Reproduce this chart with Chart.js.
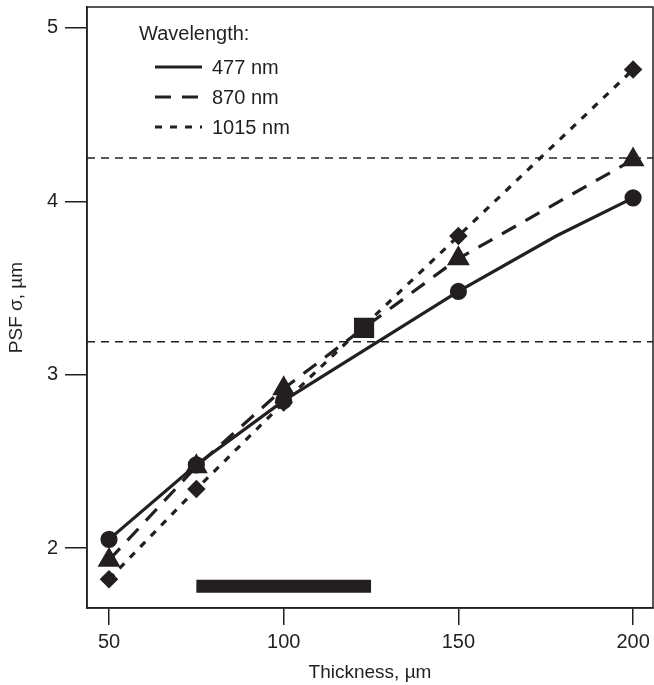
<!DOCTYPE html>
<html lang="en">
<head>
    <meta charset="UTF-8">
    <title>PSF sigma vs thickness</title>
    <script src="https://cdn.jsdelivr.net/npm/chart.js"></script>
    <style>
        body { margin: 0; background: #fff; }
        #wrap { width: 654px; height: 685px; }
    </style>
</head>
<body>
    <div id="wrap"><canvas id="psfChart" width="654" height="685"></canvas></div>
    <script>
        // values
        const x477 = [50, 75, 100, 150, 178, 200];
        const y477 = [2.05, 2.48, 2.85, 3.48, 3.80, 4.02];
        const x870 = [50, 75, 100, 123, 150, 200];
        const y870 = [1.93, 2.47, 2.92, 3.27, 3.67, 4.24];
        const x1015 = [50, 75, 100, 150, 200];
        const y1015 = [1.82, 2.34, 2.84, 3.80, 4.76];
        const refLevels = [4.25, 3.19];      // horizontal dashed lines
        const barX = [75, 125];              // black bar
        const barY = 1.78;
        const xTicks = [50, 100, 150, 200];
        const yTicks = [2, 3, 4, 5];
        const xRange = [43.7, 205.7];
        const yRange = [1.654, 5.121];

        const ink = '#231f20';
        const fontFam = '"Liberation Sans", Arial, Helvetica, sans-serif';

        const pts = (xs, ys) => xs.map((x, i) => ({ x: x, y: ys[i] }));

        const datasets = [
            {
                label: '477 nm',
                data: pts(x477, y477),
                borderColor: ink, backgroundColor: ink,
                borderWidth: 3.2,
                pointStyle: 'circle',
                pointRadius: [7, 7, 7, 7, 0, 7],
                inLegend: true
            },
            {
                label: '870 nm',
                data: pts(x870, y870),
                borderColor: ink, backgroundColor: ink,
                borderWidth: 3.2,
                borderDash: [16, 11],
                pointStyle: ['triangle', 'triangle', 'triangle', 'rect', 'triangle', 'triangle'],
                pointRadius: [10, 10, 10, 12, 10, 10],
                inLegend: true
            },
            {
                label: '1015 nm',
                data: pts(x1015, y1015),
                borderColor: ink, backgroundColor: ink,
                borderWidth: 3.2,
                borderDash: [7, 8],
                pointStyle: 'rectRot',
                pointRadius: 7,
                inLegend: true
            }
        ];

        refLevels.forEach(v => {
            datasets.push({
                label: 'ref',
                data: [{ x: xRange[0], y: v }, { x: xRange[1], y: v }],
                borderColor: ink,
                borderWidth: 1.7,
                borderDash: [8, 6],
                pointRadius: 0
            });
        });

        datasets.push({
            label: 'bar',
            data: [{ x: barX[0], y: barY }, { x: barX[1], y: barY }],
            borderColor: ink,
            borderWidth: 13,
            borderCapStyle: 'butt',
            pointRadius: 0
        });

        // box around the plot + the legend in the top left corner
        const frameAndLegend = {
            id: 'frameAndLegend',
            afterDraw(chart) {
                const c = chart.ctx;
                const a = chart.chartArea;
                c.save();
                c.strokeStyle = ink;
                c.lineWidth = 1.5;
                c.setLineDash([]);
                c.strokeRect(a.left, a.top, a.right - a.left, a.bottom - a.top);

                c.fillStyle = ink;
                c.font = '20px ' + fontFam;
                c.textBaseline = 'middle';
                c.fillText('Wavelength:', 139, 34);
                let y = 67;
                chart.data.datasets.filter(d => d.inLegend).forEach(d => {
                    c.beginPath();
                    c.lineWidth = 3;
                    c.setLineDash(d.borderDash || []);
                    c.moveTo(155, y);
                    c.lineTo(202, y);
                    c.stroke();
                    c.setLineDash([]);
                    c.fillText(d.label, 212, y + 1);
                    y += 30;
                });
                c.restore();
            }
        };

        const noPad = s => { s.paddingLeft = 0; s.paddingRight = 0; s.paddingTop = 0; s.paddingBottom = 0; };

        new Chart(document.getElementById('psfChart'), {
            type: 'line',
            data: { datasets: datasets },
            options: {
                responsive: false,
                animation: false,
                layout: { autoPadding: false, padding: { top: 7, right: 1, left: 0, bottom: 0 } },
                plugins: {
                    legend: { display: false },
                    tooltip: { enabled: false }
                },
                elements: { line: { tension: 0 } },
                scales: {
                    x: {
                        type: 'linear',
                        min: xRange[0], max: xRange[1],
                        afterBuildTicks: s => { s.ticks = xTicks.map(v => ({ value: v })); },
                        afterFit: s => { s.height = 77; noPad(s); },
                        border: { color: ink, width: 1.5 },
                        grid: { drawOnChartArea: false, color: ink, lineWidth: 1.5, tickLength: 17 },
                        ticks: { color: ink, padding: 5, font: { family: fontFam, size: 20 }, maxRotation: 0 },
                        title: {
                            display: true, text: 'Thickness, \u00b5m', color: ink,
                            font: { family: fontFam, size: 19 }, padding: { top: 2, bottom: 1 }
                        }
                    },
                    y: {
                        type: 'linear',
                        min: yRange[0], max: yRange[1],
                        afterBuildTicks: s => { s.ticks = yTicks.map(v => ({ value: v })); },
                        afterFit: s => { s.width = 87; noPad(s); },
                        border: { color: ink, width: 1.5 },
                        grid: { drawOnChartArea: false, color: ink, lineWidth: 1.5, tickLength: 22 },
                        ticks: { color: ink, padding: 7, font: { family: fontFam, size: 20 } },
                        title: {
                            display: true, text: 'PSF \u03c3, \u00b5m', color: ink,
                            font: { family: fontFam, size: 19 }, padding: { top: 5, bottom: 0 }
                        }
                    }
                }
            },
            plugins: [frameAndLegend]
        });
    </script>
</body>
</html>
